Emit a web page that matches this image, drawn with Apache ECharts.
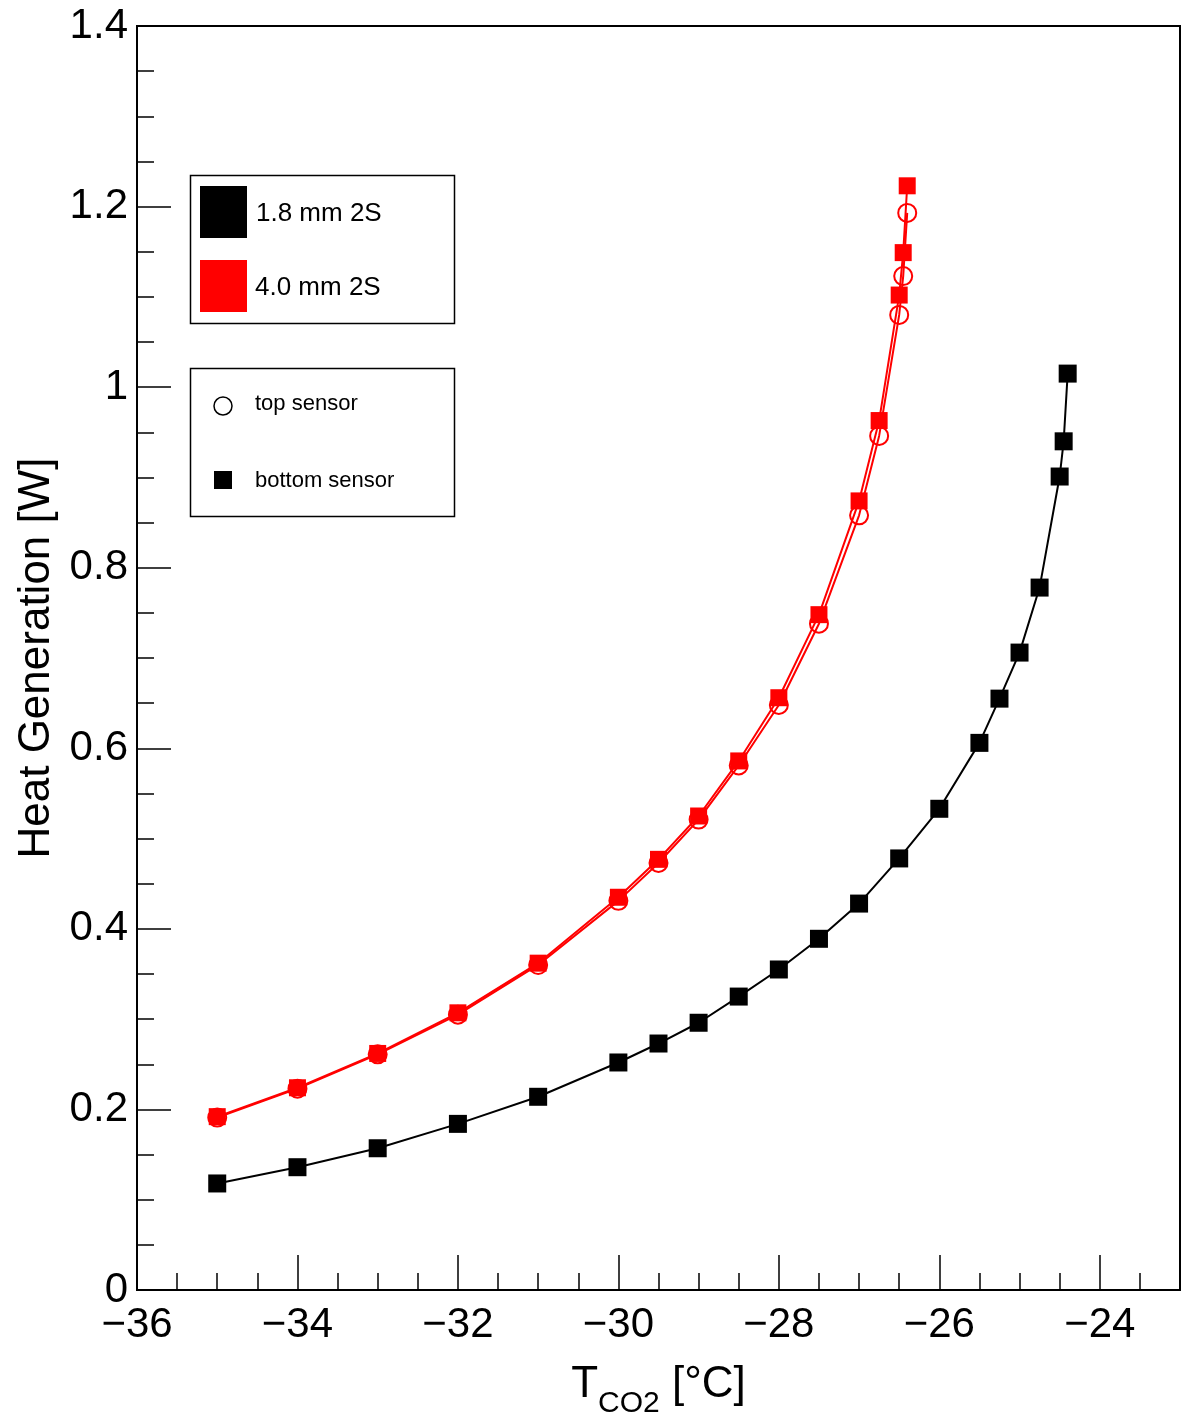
<!DOCTYPE html>
<html>
<head>
<meta charset="utf-8">
<script src="https://cdn.jsdelivr.net/npm/echarts@6/dist/echarts.min.js"></script>
<style>
html,body{margin:0;padding:0;background:#fff;}
#chart{width:1191px;height:1412px;}
</style>
</head>
<body>
<div id="chart"></div>
<script>
// ---- data ----
const blackX = [-35, -34, -33, -32, -31, -30, -29.5, -29, -28.5, -28, -27.5, -27, -26.5, -26, -25.5, -25.25, -25, -24.75, -24.5, -24.45, -24.4];
const blackBottom = [0.118, 0.136, 0.157, 0.184, 0.214, 0.252, 0.273, 0.296, 0.325, 0.355, 0.389, 0.428, 0.478, 0.533, 0.606, 0.655, 0.706, 0.778, 0.901, 0.940, 1.015];

const redX = [-35, -34, -33, -32, -31, -30, -29.5, -29, -28.5, -28, -27.5, -27, -26.75, -26.5, -26.45, -26.4];
const redBottom = [0.192, 0.224, 0.262, 0.307, 0.362, 0.435, 0.477, 0.525, 0.586, 0.656, 0.748, 0.874, 0.963, 1.102, 1.149, 1.223];
const redTop = [0.191, 0.223, 0.261, 0.305, 0.360, 0.431, 0.473, 0.521, 0.581, 0.648, 0.738, 0.858, 0.946, 1.080, 1.123, 1.193];

const legendThickness = ['1.8 mm 2S', '4.0 mm 2S'];
const legendSensor = ['top sensor', 'bottom sensor'];

const FONT = '"Liberation Sans", Arial, Helvetica, sans-serif';
const zip = (xs, ys) => xs.map((x, i) => [x, ys[i]]);
const minus = v => String(v).replace('-', '\u2212');

const chart = echarts.init(document.getElementById('chart'), null, {renderer: 'canvas'});

const option = {
  backgroundColor: '#fff',
  animation: false,
  grid: {
    left: 137, right: 11, top: 26, bottom: 122,
    outerBoundsMode: 'none', containLabel: false,
    show: true, borderColor: '#000', borderWidth: 2, backgroundColor: 'transparent'
  },
  xAxis: {
    type: 'value', min: -36, max: -23, interval: 2,
    axisLine: {show: true, lineStyle: {color: '#000', width: 2}},
    axisTick: {show: true, inside: true, length: 35, lineStyle: {color: '#000', width: 1.5}},
    minorTick: {show: true, splitNumber: 4, length: 17, lineStyle: {color: '#000', width: 1.5}},
    splitLine: {show: false},
    axisLabel: {
      color: '#000', fontFamily: FONT, fontSize: 42, margin: 14,
      formatter: v => (v > -23.5 ? '' : minus(v))
    },
    name: '{t|T}{s|CO2}{t| [°C]}',
    nameLocation: 'middle', nameGap: 73,
    nameTextStyle: {
      rich: {
        t: {fontFamily: FONT, fontSize: 44, color: '#000', verticalAlign: 'bottom'},
        s: {fontFamily: FONT, fontSize: 30, color: '#000', verticalAlign: 'bottom', padding: [0, 0, -12, 0]}
      }
    }
  },
  yAxis: {
    type: 'value', min: 0, max: 1.4, interval: 0.2,
    axisLine: {show: true, lineStyle: {color: '#000', width: 2}},
    axisTick: {show: true, inside: true, length: 34, lineStyle: {color: '#000', width: 1.5}},
    minorTick: {show: true, splitNumber: 4, length: 17, lineStyle: {color: '#000', width: 1.5}},
    splitLine: {show: false},
    axisLabel: {
      color: '#000', fontFamily: FONT, fontSize: 42, margin: 9,
      formatter: v => String(Math.round(v * 10) / 10)
    },
    name: 'Heat Generation [W]',
    nameLocation: 'middle', nameGap: 68,
    nameTextStyle: {color: '#000', fontFamily: FONT, fontSize: 44}
  },
  series: [
    {
      name: '1.8 mm 2S bottom', type: 'line', data: zip(blackX, blackBottom),
      symbol: 'rect', symbolSize: 18,
      lineStyle: {color: '#000', width: 2}, itemStyle: {color: '#000'}, z: 3
    },
    {
      name: '4.0 mm 2S top', type: 'line', data: zip(redX, redTop),
      symbol: 'circle', symbolSize: 18,
      lineStyle: {color: '#ff0000', width: 2},
      itemStyle: {color: 'rgba(0,0,0,0)', borderColor: '#ff0000', borderWidth: 2}, z: 2
    },
    {
      name: '4.0 mm 2S bottom', type: 'line', data: zip(redX, redBottom),
      symbol: 'rect', symbolSize: 17,
      lineStyle: {color: '#ff0000', width: 2}, itemStyle: {color: '#ff0000'}, z: 4
    }
  ],
  graphic: [
    // legend 1
    {type: 'rect', shape: {x: 190.5, y: 175.5, width: 264, height: 148}, style: {fill: '#fff', stroke: '#000', lineWidth: 1.5}, z: 10},
    {type: 'rect', shape: {x: 200, y: 186, width: 47, height: 52}, style: {fill: '#000'}, z: 11},
    {type: 'rect', shape: {x: 200, y: 260, width: 47, height: 52}, style: {fill: '#ff0000'}, z: 11},
    {type: 'text', x: 256, y: 214, style: {text: legendThickness[0], fill: '#000', font: '26px ' + FONT, verticalAlign: 'middle'}, z: 11},
    {type: 'text', x: 255, y: 288, style: {text: legendThickness[1], fill: '#000', font: '26px ' + FONT, verticalAlign: 'middle'}, z: 11},
    // legend 2
    {type: 'rect', shape: {x: 190.5, y: 368.5, width: 264, height: 148}, style: {fill: '#fff', stroke: '#000', lineWidth: 1.5}, z: 10},
    {type: 'circle', shape: {cx: 223, cy: 406, r: 9}, style: {fill: 'none', stroke: '#000', lineWidth: 1.5}, z: 11},
    {type: 'rect', shape: {x: 214, y: 471, width: 18, height: 18}, style: {fill: '#000'}, z: 11},
    {type: 'text', x: 255, y: 404, style: {text: legendSensor[0], fill: '#000', font: '22px ' + FONT, verticalAlign: 'middle'}, z: 11},
    {type: 'text', x: 255, y: 481, style: {text: legendSensor[1], fill: '#000', font: '22px ' + FONT, verticalAlign: 'middle'}, z: 11}
  ]
};
chart.setOption(option);
</script>
</body>
</html>
